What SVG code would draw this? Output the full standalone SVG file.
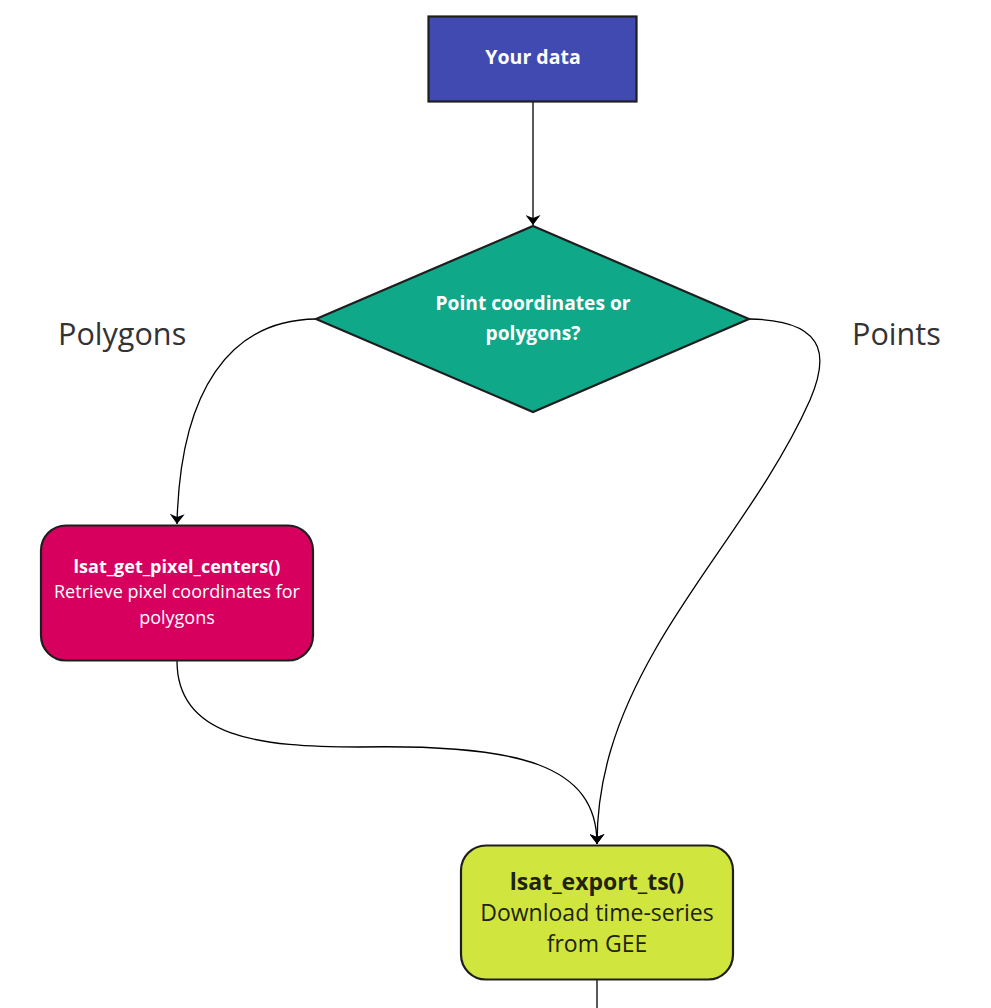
<svg xmlns="http://www.w3.org/2000/svg" width="991" height="1008" viewBox="0 0 991 1008">
<style>
.node{stroke:#1e1e1e;stroke-width:2.2}
.edge{fill:none;stroke:#000;stroke-width:1.3}
.t{font-family:"Open Sans","Noto Sans","DejaVu Sans",sans-serif;text-anchor:middle}
.b{font-weight:bold}
.w{fill:#fff}
.d{fill:#1f2310}
.lab{font-family:"Open Sans","Noto Sans","DejaVu Sans",sans-serif;font-size:30.6px;fill:#333}
</style>
<defs>
<marker id="arr" viewBox="0 0 10 15" refX="10" refY="7.5" markerWidth="11" markerHeight="15" markerUnits="userSpaceOnUse" orient="auto">
<path d="M0,0 L10,7.5 L0,15 L3,7.5 Z" fill="#000"/>
</marker>
</defs>
<rect width="991" height="1008" fill="#fff"/>
<g id="connectors">
<path class="edge" d="M533,102 L533,225" marker-end="url(#arr)"/>
<path class="edge" d="M316,319 C230,320 180,390 177,524" marker-end="url(#arr)"/>
<path class="edge" d="M749,319 C835,320 825,365 810,400 C770,490 700,570 655,650 C615,720 597,780 597,844" marker-end="url(#arr)"/>
<path class="edge" d="M177,661 C177,738 260,747 360,747 C520,744 597,765 597,844" marker-end="url(#arr)"/>
<path class="edge" d="M597,980 L597,1008"/>
</g>
<g id="your-data">
<rect class="node" x="428.5" y="16.5" width="208" height="85" fill="#414AB1"/>
<text class="t b w" x="533" y="64" font-size="19.5">Your data</text>
</g>
<g id="decision">
<polygon class="node" points="533,226 749,319 533,412 316,319" fill="#0FA889"/>
<text class="t b w" x="533" y="310" font-size="19.2">Point coordinates or</text>
<text class="t b w" x="533" y="340" font-size="19.2">polygons?</text>
</g>
<g id="label-polygons"><text class="lab" x="58" y="345">Polygons</text></g>
<g id="label-points"><text class="lab" x="852" y="345">Points</text></g>
<g id="pixel-centers">
<rect class="node" x="41" y="525.5" width="272" height="135" rx="25" fill="#D8005F"/>
<text class="t b w" x="177" y="573" font-size="18">lsat_get_pixel_centers()</text>
<text class="t w" x="177" y="598" font-size="18">Retrieve pixel coordinates for</text>
<text class="t w" x="177" y="624" font-size="18">polygons</text>
</g>
<g id="export-ts">
<rect class="node" x="461" y="845.5" width="272" height="134" rx="25" fill="#D0E63F"/>
<text class="t b d" x="597" y="890" font-size="23">lsat_export_ts()</text>
<text class="t d" x="597" y="921" font-size="23">Download time-series</text>
<text class="t d" x="597" y="952" font-size="23">from GEE</text>
</g>
</svg>
